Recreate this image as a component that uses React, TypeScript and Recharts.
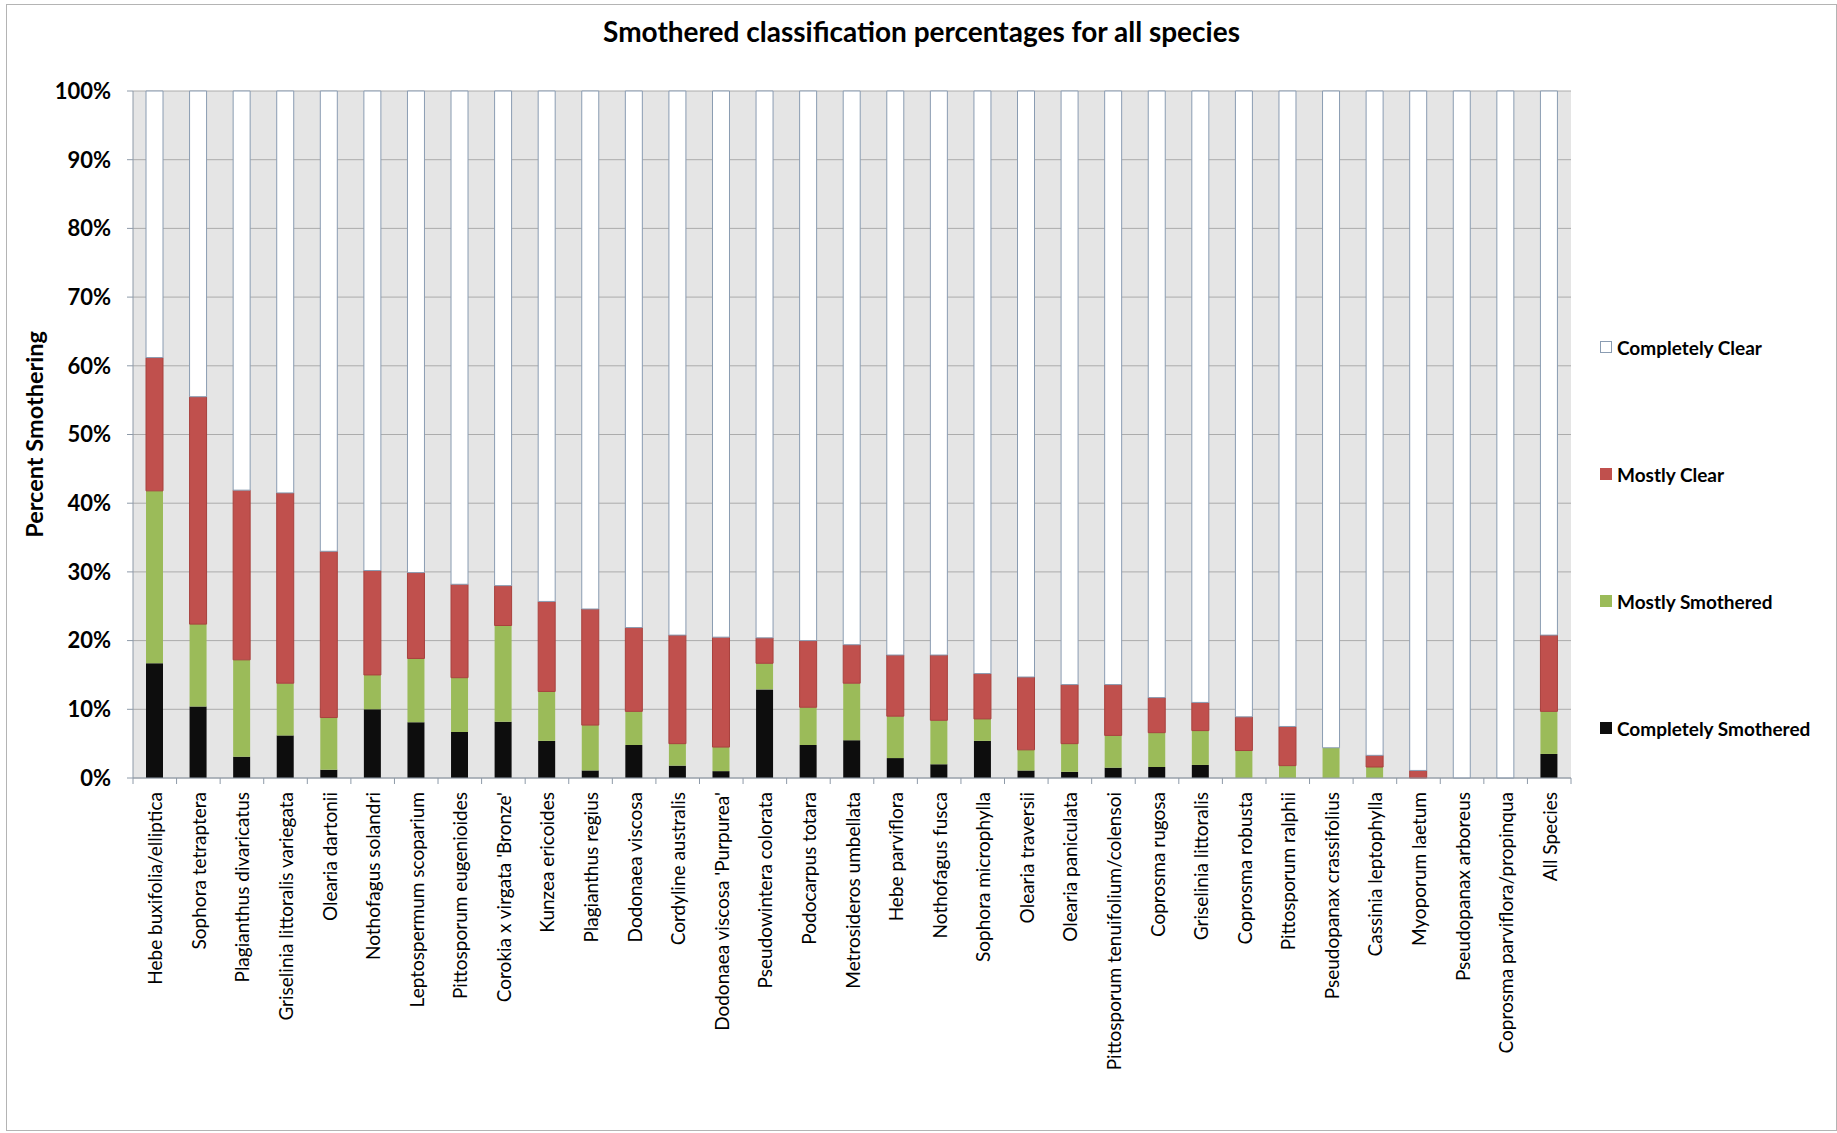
import { BarChart, Bar, XAxis, YAxis, CartesianGrid } from 'recharts';

const species = [
  'Hebe buxifolia/elliptica',
  'Sophora tetraptera',
  'Plagianthus divaricatus',
  'Griselinia littoralis variegata',
  'Olearia dartonii',
  'Nothofagus solandri',
  'Leptospermum scoparium',
  'Pittosporum eugenioides',
  "Corokia x virgata 'Bronze'",
  'Kunzea ericoides',
  'Plagianthus regius',
  'Dodonaea viscosa',
  'Cordyline australis',
  "Dodonaea viscosa 'Purpurea'",
  'Pseudowintera colorata',
  'Podocarpus totara',
  'Metrosideros umbellata',
  'Hebe parviflora',
  'Nothofagus fusca',
  'Sophora microphylla',
  'Olearia traversii',
  'Olearia paniculata',
  'Pittosporum tenuifolium/colensoi',
  'Coprosma rugosa',
  'Griselinia littoralis',
  'Coprosma robusta',
  'Pittosporum ralphii',
  'Pseudopanax crassifolius',
  'Cassinia leptophylla',
  'Myoporum laetum',
  'Pseudopanax arboreus',
  'Coprosma parviflora/propinqua',
  'All Species',
];

// percentages per species, bottom of the stack first
const completelySmothered = [
  16.7, 10.4, 3.1, 6.2, 1.2, 10.0, 8.1, 6.7, 8.2, 5.4, 1.1, 4.8, 1.8, 1.0, 12.9, 4.8, 5.5,
  2.9, 2.0, 5.4, 1.1, 0.9, 1.5, 1.6, 1.9, 0, 0, 0, 0, 0, 0, 0, 3.5,
];
const mostlySmothered = [
  25.1, 12.0, 14.1, 7.6, 7.6, 5.0, 9.3, 7.9, 14.0, 7.2, 6.6, 4.9, 3.2, 3.5, 3.8, 5.5, 8.3,
  6.1, 6.4, 3.2, 3.0, 4.1, 4.7, 5.0, 5.0, 4.0, 1.8, 4.4, 1.6, 0, 0, 0, 6.2,
];
const mostlyClear = [
  19.4, 33.1, 24.7, 27.7, 24.2, 15.2, 12.5, 13.6, 5.8, 13.1, 16.9, 12.2, 15.8, 16.0, 3.7, 9.7,
  5.6, 8.9, 9.5, 6.6, 10.6, 8.6, 7.4, 5.1, 4.1, 4.9, 5.7, 0, 1.7, 1.1, 0, 0, 11.1,
];
const completelyClear = [
  38.8, 44.5, 58.1, 58.5, 67.0, 69.8, 70.1, 71.8, 72.0, 74.3, 75.4, 78.1, 79.2, 79.5, 79.6,
  80.0, 80.6, 82.1, 82.1, 84.8, 85.3, 86.4, 86.4, 88.3, 89.0, 91.1, 92.5, 95.6, 96.7, 98.9,
  100, 100, 79.2,
];

const percentTicks = [0, 10, 20, 30, 40, 50, 60, 70, 80, 90, 100];

const data = species.map((name, i) => ({
  name,
  completelySmothered: completelySmothered[i],
  mostlySmothered: mostlySmothered[i],
  mostlyClear: mostlyClear[i],
  completelyClear: completelyClear[i],
}));

const series = [
  { key: 'completelySmothered', label: 'Completely Smothered', fill: '#0d0d0d', stroke: 'none' },
  { key: 'mostlySmothered', label: 'Mostly Smothered', fill: '#9bbb59', stroke: 'none' },
  { key: 'mostlyClear', label: 'Mostly Clear', fill: '#c0504d', stroke: '#a8403d' },
  { key: 'completelyClear', label: 'Completely Clear', fill: '#ffffff', stroke: '#8a9cb2' },
];

const FONT = 'Lato, "Open Sans", sans-serif';
const AXIS = '#8e9aa8';
const CHART_W = 1829;
const CHART_H = 1125;
const Y_AXIS_W = 126;
const MARGIN_RIGHT = 265;
const STEP = (CHART_W - Y_AXIS_W - MARGIN_RIGHT) / species.length;

// label at the category centre, tick marks on the category boundaries
const SpeciesTick = (props: any) => {
  const { x, y, payload, index } = props;
  const axisY = y - 14;
  const half = STEP / 2;
  return (
    <g>
      <line x1={x - half} x2={x - half} y1={axisY} y2={axisY + 6} stroke={AXIS} />
      {index === species.length - 1 && (
        <line x1={x + half} x2={x + half} y1={axisY} y2={axisY + 6} stroke={AXIS} />
      )}
      <text
        x={x}
        y={y}
        transform={`rotate(-90, ${x}, ${y})`}
        textAnchor="end"
        dominantBaseline="central"
        fontSize={19}
        fill="#000"
        fontFamily={FONT}
      >
        {payload.value}
      </text>
    </g>
  );
};

const YTitle = (props: any) => {
  const { viewBox } = props;
  const x = viewBox.x + 27;
  const y = viewBox.y + viewBox.height / 2;
  return (
    <text
      x={x}
      y={y}
      transform={`rotate(-90, ${x}, ${y})`}
      textAnchor="middle"
      dominantBaseline="central"
      fontSize={23.5}
      fontWeight="bold"
      fill="#000"
      fontFamily={FONT}
    >
      Percent Smothering
    </text>
  );
};

export default function App() {
  const legendItems = [...series].reverse();
  return (
    <div
      style={{
        position: 'fixed',
        left: 6,
        top: 4,
        width: CHART_W + 2,
        height: CHART_H + 2,
        border: '1px solid #b4b4b4',
        boxSizing: 'border-box',
        background: '#fff',
        fontFamily: FONT,
      }}
    >
      <div
        style={{
          position: 'absolute',
          left: 0,
          top: 9,
          width: '100%',
          textAlign: 'center',
          fontSize: 28,
          fontWeight: 'bold',
          color: '#000',
        }}
      >
        Smothered classification percentages for all species
      </div>

      <BarChart
        width={CHART_W}
        height={CHART_H}
        data={data}
        margin={{ top: 86, right: MARGIN_RIGHT, bottom: 0, left: 0 }}
        barSize={17}
      >
        <CartesianGrid vertical={false} stroke="#acacac" fill="#e5e5e5" />
        <XAxis
          dataKey="name"
          interval={0}
          height={352}
          tick={<SpeciesTick />}
          tickLine={false}
          tickSize={6}
          tickMargin={8}
          axisLine={{ stroke: AXIS }}
        />
        <YAxis
          width={Y_AXIS_W}
          domain={[0, 100]}
          ticks={percentTicks}
          tickFormatter={(v: number) => `${v}%`}
          tick={{ fontSize: 22, fontWeight: 'bold', fill: '#000', fontFamily: FONT }}
          tickLine={{ stroke: AXIS }}
          tickSize={6}
          tickMargin={16}
          axisLine={{ stroke: AXIS }}
          label={<YTitle />}
        />
        {series.map((s) => (
          <Bar
            key={s.key}
            dataKey={s.key}
            name={s.label}
            stackId="smother"
            fill={s.fill}
            stroke={s.stroke}
            strokeWidth={1}
            isAnimationActive={false}
          />
        ))}
      </BarChart>

      {legendItems.map((s, i) => (
        <div
          key={s.key}
          style={{
            position: 'absolute',
            left: 1593,
            top: 342 + i * 127 - 12,
            height: 24,
            display: 'flex',
            alignItems: 'center',
            fontSize: 19,
            fontWeight: 'bold',
            color: '#000',
            whiteSpace: 'nowrap',
          }}
        >
          <span
            style={{
              width: 12,
              height: 12,
              background: s.fill,
              border: s.key === 'completelyClear' ? '1px solid #8a9cb2' : 'none',
              boxSizing: 'border-box',
              marginRight: 5,
              display: 'inline-block',
            }}
          />
          {s.label}
        </div>
      ))}
    </div>
  );
}
